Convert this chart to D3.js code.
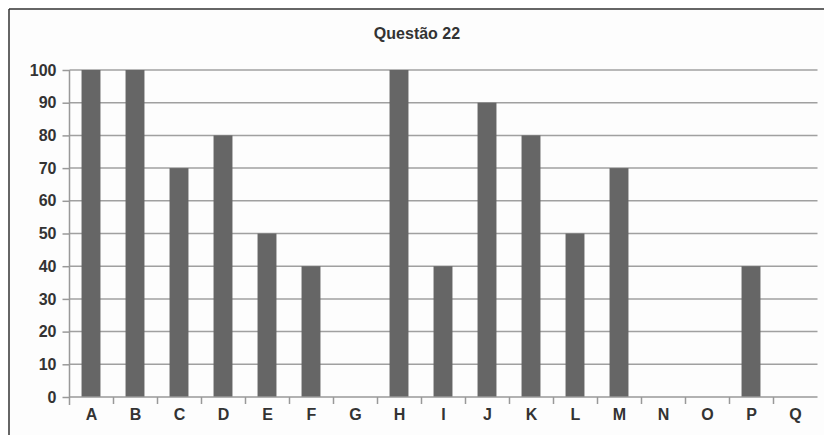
<!DOCTYPE html>
<html><head><meta charset="utf-8">
<script src="https://cdn.jsdelivr.net/npm/d3@7"></script>
<style>body{margin:0;background:#fff}svg{display:block}</style>
</head><body>
<script>
const categories = ["A","B","C","D","E","F","G","H","I","J","K","L","M","N","O","P","Q"];
const values = [100,100,70,80,50,40,0,100,40,90,80,50,70,0,0,40,0];
const yTicks = [0,10,20,30,40,50,60,70,80,90,100];
const title = "Questão 22";

const W = 824, H = 435;
const svg = d3.select("body").append("svg").attr("width", W).attr("height", H);
svg.append("rect").attr("x",9).attr("y",9).attr("width",W).attr("height",H).attr("fill","#fdfdfd");
svg.append("line").attr("x1",9).attr("x2",9).attr("y1",9).attr("y2",H).attr("stroke","#333").attr("stroke-width",1.5);
svg.append("line").attr("x1",9).attr("x2",W).attr("y1",9).attr("y2",9).attr("stroke","#333").attr("stroke-width",1.5);

const pLeft = 69.5, pRight = 817.5, pTop = 70, pBottom = 397;
const x = d3.scaleBand().domain(categories).range([pLeft, pRight]).paddingInner(0.57).paddingOuter(0.285);
const xb = d3.scaleBand().domain(categories).range([pLeft, pRight]);
const y = d3.scaleLinear().domain([0,100]).range([pBottom, pTop]);

svg.append("text").attr("x", 417).attr("y", 39).attr("text-anchor","middle")
  .attr("font-family","Liberation Sans, Arial, sans-serif").attr("font-weight","bold")
  .attr("font-size",16).attr("fill","#333").text(title);

// gridlines
svg.append("g").selectAll("line").data(yTicks.filter(d=>d>0)).join("line")
  .attr("x1", pLeft).attr("x2", pRight).attr("y1", d=>y(d)).attr("y2", d=>y(d))
  .attr("stroke","#a0a0a0").attr("stroke-width",1.5);

// bars
svg.append("g").selectAll("rect").data(values).join("rect")
  .attr("x",(d,i)=>x(categories[i]) - 0.5).attr("width",x.bandwidth())
  .attr("y",d=>y(d)).attr("height",d=>pBottom-y(d)).attr("fill","#666");

// y axis
const ya = svg.append("g").attr("transform",`translate(${pLeft},0)`)
  .call(d3.axisLeft(y).tickValues(yTicks).tickSize(7).tickPadding(6).tickFormat(d3.format("d")));
ya.select(".domain").attr("stroke","#999").attr("stroke-width",1.5).attr("d",`M0,${pTop}V${pBottom+8}`);
ya.selectAll(".tick line").attr("stroke","#999").attr("stroke-width",1.5);
ya.selectAll("text").attr("font-family","Liberation Sans, Arial, sans-serif").attr("font-weight","bold")
  .attr("font-size",16).attr("fill","#333");

// x axis
const xa = svg.append("g").attr("transform",`translate(0,${pBottom})`)
  .call(d3.axisBottom(xb).tickSize(0).tickPadding(12));
xa.select(".domain").attr("stroke","#999").attr("stroke-width",1.5).attr("d",`M${pLeft},0H${pRight}`);
xa.selectAll("text").attr("font-family","Liberation Sans, Arial, sans-serif").attr("font-weight","bold")
  .attr("font-size",16).attr("fill","#333");
svg.append("g").selectAll("line").data(categories.slice(1)).join("line")
  .attr("x1",d=>xb(d)).attr("x2",d=>xb(d)).attr("y1",pBottom).attr("y2",pBottom+7)
  .attr("stroke","#999").attr("stroke-width",1.5);
</script>
</body></html>
